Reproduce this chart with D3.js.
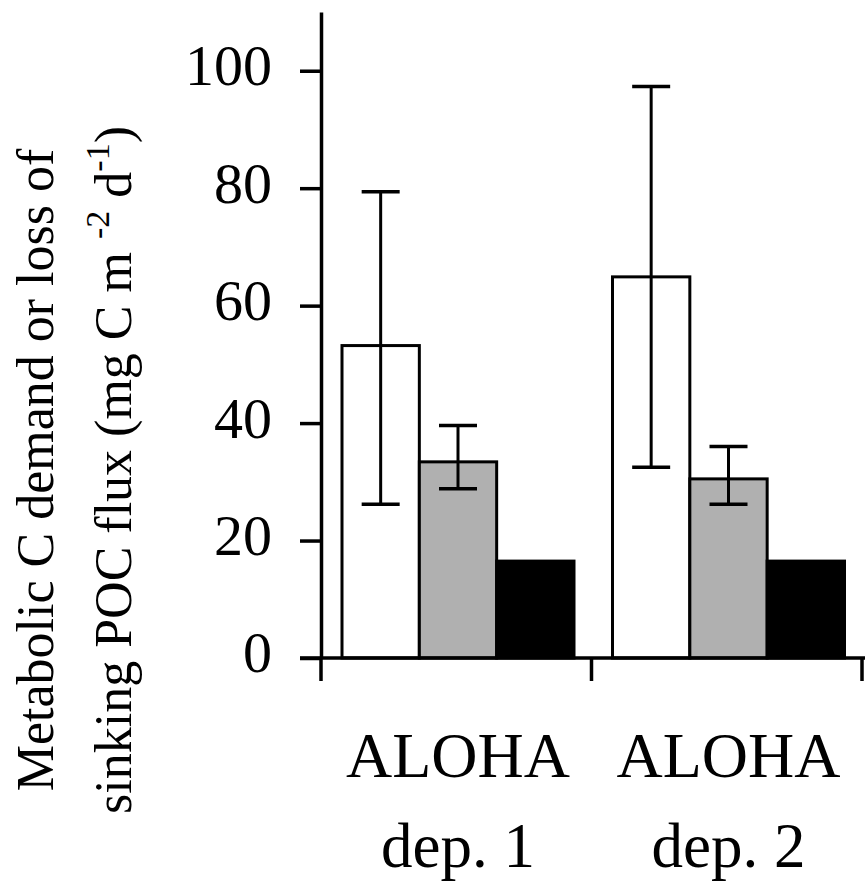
<!DOCTYPE html>
<html>
<head>
<meta charset="utf-8">
<script src="https://cdn.jsdelivr.net/npm/d3@7"></script>
<style>
  body { margin: 0; background: #fff; }
  svg text { font-family: "Liberation Serif", "Times New Roman", serif; fill: #000; }
</style>
</head>
<body>
<script>
// values (mg C m-2 d-1)
var groups = ["dep1", "dep2"];
var groupLine1 = ["ALOHA", "ALOHA"];
var groupLine2 = ["dep. 1", "dep. 2"];
var series = ["demand", "lossA", "lossB"];
var seriesFill = ["#ffffff", "#b0b0b0", "#000000"];

var values = [
  [53.2, 33.4, 16.5],
  [64.9, 30.5, 16.5]
];
var errLow = [
  [26.2, 28.8, null],
  [32.5, 26.2, null]
];
var errHigh = [
  [79.4, 39.6, null],
  [97.3, 36.0, null]
];
var yTicks = [0, 20, 40, 60, 80, 100];

var width = 865, height = 883;

var svg = d3.select("body").append("svg")
    .attr("width", width)
    .attr("height", height);

var y = d3.scaleLinear()
    .domain([0, 110])
    .range([658, 12]);

var x0 = d3.scaleBand()
    .domain(groups)
    .range([321, 862])
    .padding(0);

var x1 = d3.scaleBand()
    .domain(series)
    .range([21, 253])
    .padding(0);

// bars
var g = svg.selectAll(".grp")
    .data(groups)
    .enter().append("g")
    .attr("class", "grp")
    .attr("transform", function(d) { return "translate(" + x0(d) + ",0)"; });

g.each(function(grp, gi) {
    var sel = d3.select(this);
    series.forEach(function(s, si) {
        var v = values[gi][si];
        sel.append("rect")
            .attr("x", x1(s))
            .attr("y", y(v))
            .attr("width", x1.bandwidth())
            .attr("height", y(0) - y(v))
            .style("fill", seriesFill[si])
            .style("stroke", "#000")
            .style("stroke-width", 3);
    });
    series.forEach(function(s, si) {
        if (errLow[gi][si] == null) return;
        var cx = x1(s) + x1.bandwidth() / 2;
        var lo = y(errLow[gi][si]), hi = y(errHigh[gi][si]);
        sel.append("line")
            .attr("x1", cx).attr("x2", cx)
            .attr("y1", lo).attr("y2", hi)
            .style("stroke", "#000").style("stroke-width", 3);
        [lo, hi].forEach(function(py) {
            sel.append("line")
                .attr("x1", cx - 19).attr("x2", cx + 19)
                .attr("y1", py).attr("y2", py)
                .style("stroke", "#000").style("stroke-width", 3.5);
        });
    });
});

// y axis
var yAxis = svg.append("g")
    .attr("transform", "translate(321,0)")
    .call(d3.axisLeft(y).tickValues(yTicks).tickSize(21).tickSizeOuter(0).tickPadding(28));

yAxis.select(".domain").style("stroke-width", 3.5);
yAxis.selectAll(".tick line").style("stroke-width", 3.5);
yAxis.selectAll(".tick text")
    .attr("dy", "0.24em")
    .style("font-family", "'Liberation Serif', serif")
    .style("font-size", "58px");

// x axis: baseline plus ticks at band edges
svg.append("line")
    .attr("x1", 300).attr("x2", width)
    .attr("y1", y(0)).attr("y2", y(0))
    .style("stroke", "#000").style("stroke-width", 3.5);

var edges = groups.map(function(d) { return x0(d); }).concat([x0.range()[1]]);
svg.selectAll(".xtick")
    .data(edges)
    .enter().append("line")
    .attr("class", "xtick")
    .attr("x1", function(d) { return d; })
    .attr("x2", function(d) { return d; })
    .attr("y1", y(0)).attr("y2", y(0) + 23)
    .style("stroke", "#000").style("stroke-width", 3.5);

var labels = svg.selectAll(".xlab")
    .data(groups)
    .enter().append("g")
    .attr("class", "xlab")
    .attr("transform", function(d) {
        return "translate(" + (x0(d) + (x1.range()[0] + x1.range()[1]) / 2) + ",0)";
    });

labels.append("text")
    .attr("y", 777)
    .attr("text-anchor", "middle")
    .style("font-size", "64px")
    .text(function(d, i) { return groupLine1[i]; });

labels.append("text")
    .attr("y", 867)
    .attr("text-anchor", "middle")
    .style("font-size", "63px")
    .text(function(d, i) { return groupLine2[i]; });

// y axis title, two lines rotated
var title = svg.append("g")
    .attr("transform", "translate(53,470) rotate(-90)");

title.append("text")
    .attr("text-anchor", "middle")
    .style("font-size", "52px")
    .text("Metabolic C demand or loss of");

var t2 = title.append("text")
    .attr("y", 78)
    .attr("text-anchor", "middle")
    .style("font-size", "52px");
t2.append("tspan").text("sinking POC flux (mg C m\u00a0");
t2.append("tspan").attr("dy", -22).style("font-size", "34px").text("-2");
t2.append("tspan").attr("dy", 22).text("\u00a0d");
t2.append("tspan").attr("dy", -22).style("font-size", "34px").text("-1");
t2.append("tspan").attr("dy", 22).text(")");
</script>
</body>
</html>
